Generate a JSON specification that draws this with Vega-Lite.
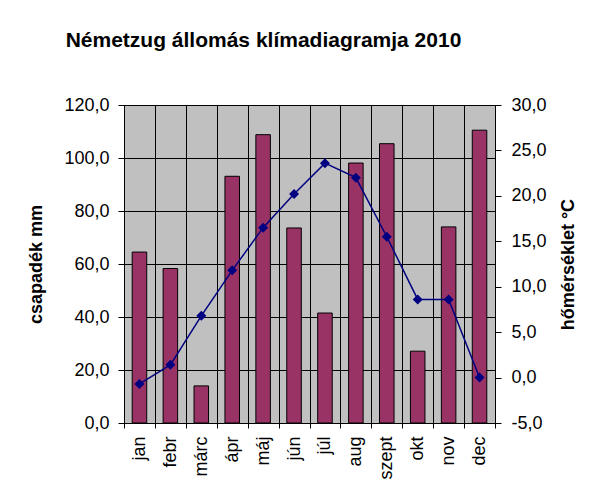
{
  "$schema": "https://vega.github.io/schema/vega-lite/v6.json",
  "width": 371,
  "height": 318,
  "padding": {"left": 27, "top": 30, "right": 0, "bottom": 0},
  "background": "white",
  "title": {"text": "Németzug állomás klímadiagramja 2010", "font": "Liberation Sans", "fontSize": 21, "fontWeight": "bold", "color": "black", "anchor": "middle", "dx": -46, "offset": 45},
  "config": {
    "locale": {"number": {"decimal": ",", "thousands": " ", "grouping": [3], "currency": ["", " Ft"], "minus": "-"}},
    "view": {"fill": "#C0C0C0", "stroke": "#808080", "strokeWidth": 1},
    "axis": {"labelFont": "Liberation Sans", "labelFontSize": 18, "labelColor": "black", "titleFont": "Liberation Sans", "titleFontSize": 18, "titleFontWeight": "bold", "titleColor": "black", "domainColor": "black", "tickColor": "black", "gridColor": "black", "gridOpacity": 1, "gridWidth": 1}
  },
  "data": {"values": [
    {"honap": "jan", "csapadek": 64.5, "homerseklet": -0.7},
    {"honap": "febr", "csapadek": 58.3, "homerseklet": 1.4},
    {"honap": "márc", "csapadek": 14.0, "homerseklet": 6.8},
    {"honap": "ápr", "csapadek": 93.1, "homerseklet": 11.8},
    {"honap": "máj", "csapadek": 108.8, "homerseklet": 16.5},
    {"honap": "jún", "csapadek": 73.6, "homerseklet": 20.2},
    {"honap": "júl", "csapadek": 41.5, "homerseklet": 23.6},
    {"honap": "aug", "csapadek": 98.1, "homerseklet": 22.0},
    {"honap": "szept", "csapadek": 105.4, "homerseklet": 15.5},
    {"honap": "okt", "csapadek": 27.1, "homerseklet": 8.6},
    {"honap": "nov", "csapadek": 74.0, "homerseklet": 8.6},
    {"honap": "dec", "csapadek": 110.5, "homerseklet": 0.0}
  ]},
  "layer": [
    {
      "mark": {"type": "bar", "fill": "#993366", "stroke": "black", "strokeWidth": 1, "width": {"band": 0.47}},
      "encoding": {
        "x": {"field": "honap", "type": "nominal", "sort": null, "scale": {"paddingInner": 0, "paddingOuter": 0},
              "axis": {"title": null, "labelAngle": -90, "tickBand": "extent", "grid": true, "tickSize": 5, "labelPadding": 8}},
        "y": {"field": "csapadek", "type": "quantitative", "scale": {"domain": [0, 120], "nice": false},
              "axis": {"title": "csapadék mm", "values": [0, 20, 40, 60, 80, 100, 120], "format": ".1f", "grid": true, "tickSize": 6, "labelPadding": 9, "titlePadding": 18}}
      }
    },
    {
      "mark": {"type": "line", "color": "#000080", "strokeWidth": 1.5, "point": {"shape": "diamond", "size": 100, "filled": true, "color": "#000080"}},
      "encoding": {
        "x": {"field": "honap", "type": "nominal", "sort": null},
        "y": {"field": "homerseklet", "type": "quantitative", "scale": {"domain": [-5, 30], "nice": false},
              "axis": {"orient": "right", "title": "hőmérséklet °C", "values": [-5, 0, 5, 10, 15, 20, 25, 30], "format": ".1f", "grid": false, "tickSize": 6, "labelPadding": 10, "titlePadding": 13, "titleAngle": -90, "titleBaseline": "top"}}
      }
    }
  ],
  "resolve": {"scale": {"y": "independent"}}
}
